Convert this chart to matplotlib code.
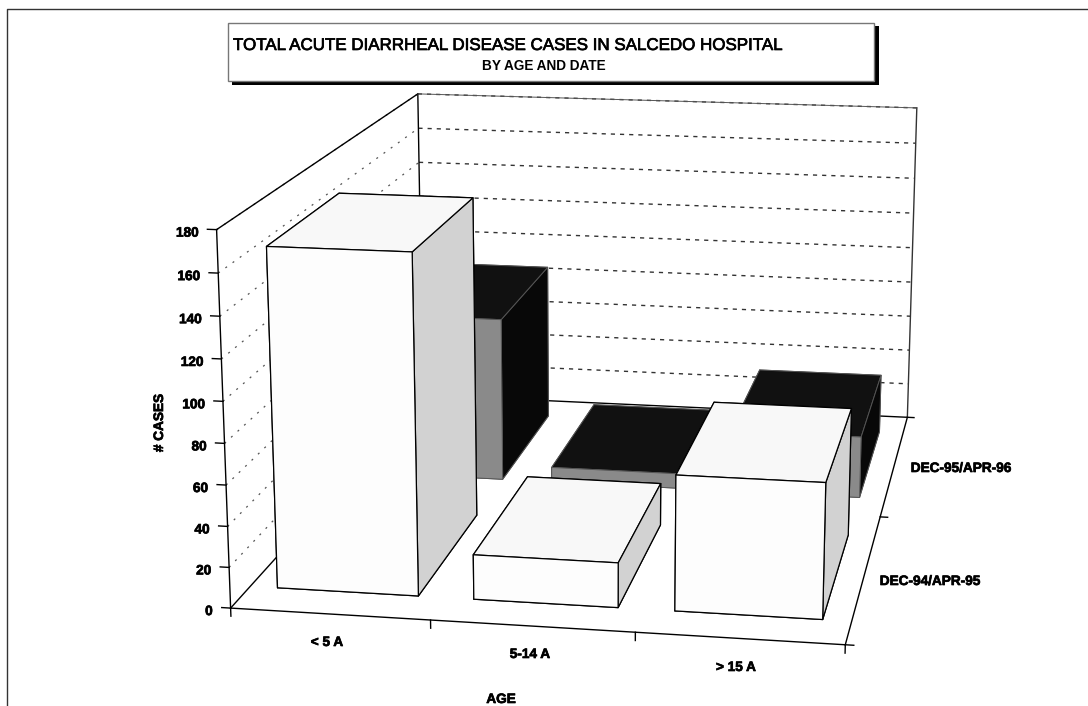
import numpy as np
import matplotlib
matplotlib.use("Agg")
import matplotlib.pyplot as plt
import matplotlib.patheffects as pe
from matplotlib.patches import Rectangle
from mpl_toolkits.mplot3d import Axes3D

plt.rcParams['font.family'] = ['Liberation Sans', 'DejaVu Sans']

# data
ages = ['< 5 A', '5-14 A', '> 15 A']
periods = ['DEC-94/APR-95', 'DEC-95/APR-96']
cases_94 = [166, 22, 66]
cases_95 = [88, 8, 33]
z_ticks = [0, 20, 40, 60, 80, 100, 120, 140, 160, 180]

title = 'TOTAL ACUTE DIARRHEAL DISEASE CASES IN SALCEDO HOSPITAL'
subtitle = 'BY AGE AND DATE'
W, H = 1088, 706

# box corners in data units and where they land on the page (pixels, y down)
corners_3d = [(0, 0, 0), (3, 0, 0), (3, 2, 0), (0, 2, 0),
              (0, 0, 180), (3, 2, 180), (0, 2, 180)]
corners_px = [(230.5, 607.5), (845.5, 645), (907.3, 417), (423, 395.5),
              (216.5, 230), (916.7, 108), (418, 93.5)]


# solves the 3x4 camera matrix that sends corners_3d to corners_px
def fit_camera(pts3, pts2):
    rows = []
    for (x, y, z), (u, v) in zip(pts3, pts2):
        rows.append([x, y, z, 1, 0, 0, 0, 0, -u*x, -u*y, -u*z, -u])
        rows.append([0, 0, 0, 0, x, y, z, 1, -v*x, -v*y, -v*z, -v])
    p = np.linalg.svd(np.array(rows, dtype=float))[2][-1].reshape(3, 4)
    p = p / p[2, 3]
    return p


fig = plt.figure(figsize=(W/100, H/100), dpi=100)
ax = fig.add_axes([0, 0, 1, 1], projection='3d')
ax.apply_aspect = lambda position=None: None
ax.set_axis_off()
ax.computed_zorder = False
ax.patch.set_alpha(0)

# camera goes from page pixels to the 2d coordinates of the 3d axes
flip = np.array([[1, 0, 0], [0, -1, H], [0, 0, 1.0]])
page = ax.transData.inverted().get_matrix() @ flip
cam_px = fit_camera(corners_3d, corners_px)
cam = page @ cam_px
cam = cam / cam[2, 3]
proj = np.array([cam[0], cam[1], [0, 0, 0, -1.0], cam[2]])
ax.get_proj = lambda: proj


def to_page(x, y, z):
    u, v, w = cam_px @ np.array([x, y, z, 1.0])
    return u/w, v/w


# walls and floor
solid = dict(color='black', lw=1.0, zorder=2)
ax.plot([0, 3], [0, 0], [0, 0], **solid)
ax.plot([3, 3], [0, 2], [0, 0], **solid)
ax.plot([0, 0], [0, 2], [0, 0], **solid)
ax.plot([0, 3], [2, 2], [0, 0], **solid)
ax.plot([0, 0], [0, 0], [0, 180], **solid)
ax.plot([0, 0], [2, 2], [0, 180], **solid)
ax.plot([3, 3], [2, 2], [0, 180], color='#333333', lw=1.0, zorder=2)
ax.plot([0, 0], [0, 2], [180, 180], **solid)
ax.plot([0, 3], [2, 2], [180, 180], color='#555555', lw=0.7, zorder=2)

for z in z_ticks[1:]:
    ax.plot([0, 3], [2, 2], [z, z], color='#333333', lw=1.0, ls=(0, (3, 3.6)), zorder=1)
    ax.plot([0, 0], [0, 2], [z, z], color='#555555', lw=0.9, ls=(0, (1.6, 5.5)), zorder=1)

# ticks
tick = dict(color='black', lw=1.0, zorder=2)
for z in z_ticks:
    ax.plot([-0.045, 0], [0, 0], [z, z], **tick)
for x in range(4):
    ax.plot([x, x], [0, 0], [0, -4], **tick)
for y in range(3):
    ax.plot([3, 3.04], [y, y], [0, 0], **tick)

# bars, back row first so the front row paints over it
bar_x = [0.14, 1.14, 2.14]
light = ['#ffffff', '#f8f8f8', '#fdfdfd', '#ffffff', '#ffffff', '#d2d2d2']
dark = ['#8a8a8a', '#111111', '#8a8a8a', '#111111', '#111111', '#080808']
zo = 5
for x, h in zip(bar_x, cases_95):
    ax.bar3d(x, 1.165, 0, 0.72, 0.665, h, color=dark, shade=False,
             edgecolor='#555555', linewidth=0.7, zorder=zo)
    zo += 1
for x, h in zip(bar_x, cases_94):
    ax.bar3d(x, 0.165, 0, 0.72, 0.665, h, color=light, shade=False,
             edgecolor='black', linewidth=0.9, zorder=zo)
    zo += 1

# page furniture in pixel coordinates on a second axes
top = fig.add_axes([0, 0, 1, 1], zorder=10)
top.set_xlim(0, W)
top.set_ylim(H, 0)
top.axis('off')
top.patch.set_alpha(0)
top.plot([6.5, 6.5, W], [H, 8.5, 8.5], color='#333333', lw=1.0)
top.add_patch(Rectangle((232, 26), 647, 59, fc='black', ec='none'))
top.add_patch(Rectangle((228, 23), 646, 57.5, fc='white', ec='#777777', lw=1.0))

heavy = [pe.withStroke(linewidth=0.5, foreground='black')]
top.text(233, 45.5, title, fontsize=12.2, ha='left', va='center', path_effects=heavy)
top.text(543.5, 66.5, subtitle, fontsize=9.8, fontweight='bold', ha='center', va='center')

label = dict(fontsize=9.8, fontweight='bold', ha='center', va='center', path_effects=heavy)
for z in z_ticks:
    u, v = to_page(0, 0, z)
    top.text(u - 18, v + 3, str(z), fontsize=9.8, fontweight='bold', ha='right',
             va='center', path_effects=heavy)
for name, x, y in zip(ages, [327, 530, 736], [642, 654, 667]):
    top.text(x, y, name, **label)
for name, x, y in zip(periods, [930, 961], [581, 468]):
    top.text(x, y, name, **label)
top.text(501, 699, 'AGE', **label)
top.text(159, 423, '# CASES', rotation=90, **label)

fig.savefig('out.png', dpi=100)
